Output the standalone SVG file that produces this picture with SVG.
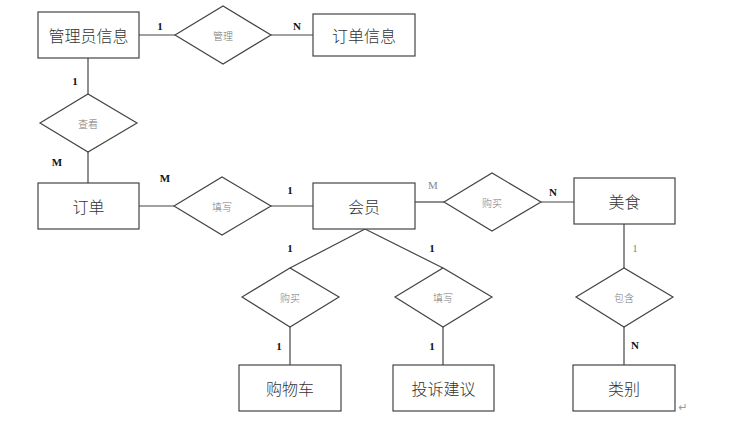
<svg xmlns="http://www.w3.org/2000/svg" width="737" height="429" viewBox="0 0 737 429">
<style>
.ent{fill:#fff;stroke:#444;stroke-width:1.2}
.rel{fill:#fff;stroke:#444;stroke-width:1.2}
.et{font-family:"Noto Sans CJK SC","Noto Sans CJK JP",sans-serif;font-size:16px;font-weight:300;fill:#333;text-anchor:middle;dominant-baseline:central}
.rt{font-family:"Noto Sans CJK SC","Noto Sans CJK JP",serif;font-size:10px;font-weight:300;fill:#777;text-anchor:middle;dominant-baseline:central}
.lb{font-family:"Liberation Serif",serif;font-size:11px;fill:#111;font-weight:bold;text-anchor:middle;dominant-baseline:central}
.lg{font-family:"Liberation Serif",serif;font-size:11px;fill:#888;text-anchor:middle;dominant-baseline:central}
.ln{stroke:#444;stroke-width:1.2;fill:none}
</style>
<rect width="737" height="429" fill="#fff"/>
<g id="connectors">
<line class="ln" x1="139" y1="35" x2="175" y2="35"/>
<line class="ln" x1="271" y1="35" x2="313" y2="35"/>
<line class="ln" x1="88" y1="58" x2="88" y2="94"/>
<line class="ln" x1="88" y1="152" x2="88" y2="183"/>
<line class="ln" x1="139" y1="206" x2="174" y2="206"/>
<line class="ln" x1="271" y1="206" x2="313" y2="206"/>
<line class="ln" x1="415" y1="202" x2="444" y2="202"/>
<line class="ln" x1="541" y1="202" x2="574" y2="202"/>
<line class="ln" x1="365" y1="229" x2="290" y2="268"/>
<line class="ln" x1="365" y1="229" x2="443" y2="268"/>
<line class="ln" x1="290" y1="327" x2="290" y2="365"/>
<line class="ln" x1="443" y1="327" x2="443" y2="365"/>
<line class="ln" x1="624" y1="224" x2="624" y2="268"/>
<line class="ln" x1="624" y1="327" x2="624" y2="365"/>
<text class="lb" x="160" y="26">1</text>
<text class="lb" x="297" y="26">N</text>
<text class="lb" x="75" y="81">1</text>
<text class="lb" x="57" y="162">M</text>
<text class="lb" x="165" y="178">M</text>
<text class="lb" x="290" y="190">1</text>
<text class="lg" x="433" y="185">M</text>
<text class="lb" x="553" y="192">N</text>
<text class="lg" x="635" y="248">1</text>
<text class="lb" x="290" y="248">1</text>
<text class="lb" x="432" y="248">1</text>
<text class="lb" x="279" y="346">1</text>
<text class="lb" x="432" y="346">1</text>
<text class="lb" x="635" y="345">N</text>
</g>
<g id="admin"><rect class="ent" x="38" y="12" width="101" height="46"/><text class="et" x="88.5" y="35">管理员信息</text></g>
<g id="manage"><polygon class="rel" points="175,35 223,6 271,35 223,64"/><text class="rt" x="223" y="35">管理</text></g>
<g id="orderinfo"><rect class="ent" x="313" y="14" width="102" height="42"/><text class="et" x="364" y="35">订单信息</text></g>
<g id="view"><polygon class="rel" points="40,123 88,94 137,123 88,152"/><text class="rt" x="88" y="123">查看</text></g>
<g id="order"><rect class="ent" x="38" y="183" width="101" height="46"/><text class="et" x="88.5" y="206">订单</text></g>
<g id="fill1"><polygon class="rel" points="174,206 222,177 271,206 222,235"/><text class="rt" x="222" y="206">填写</text></g>
<g id="member"><rect class="ent" x="313" y="183" width="102" height="46"/><text class="et" x="364" y="206">会员</text></g>
<g id="buy1"><polygon class="rel" points="444,202 492,173 541,202 492,231"/><text class="rt" x="492" y="202">购买</text></g>
<g id="food"><rect class="ent" x="574" y="178" width="101" height="46"/><text class="et" x="624.5" y="201">美食</text></g>
<g id="buy2"><polygon class="rel" points="242,297 290,268 339,297 290,327"/><text class="rt" x="290" y="297">购买</text></g>
<g id="fill2"><polygon class="rel" points="395,297 443,268 492,297 443,327"/><text class="rt" x="443" y="297">填写</text></g>
<g id="contain"><polygon class="rel" points="576,297 624,268 673,297 624,327"/><text class="rt" x="624" y="297">包含</text></g>
<g id="cart"><rect class="ent" x="239" y="365" width="102" height="46"/><text class="et" x="290" y="388">购物车</text></g>
<g id="complaint"><rect class="ent" x="393" y="365" width="101" height="46"/><text class="et" x="443.5" y="388">投诉建议</text></g>
<g id="category"><rect class="ent" x="573" y="365" width="102" height="46"/><text class="et" x="624" y="388">类别</text></g>
<text x="683" y="407" font-family="DejaVu Sans,sans-serif" font-size="11" fill="#999" text-anchor="middle" dominant-baseline="central">↵</text>
</svg>
